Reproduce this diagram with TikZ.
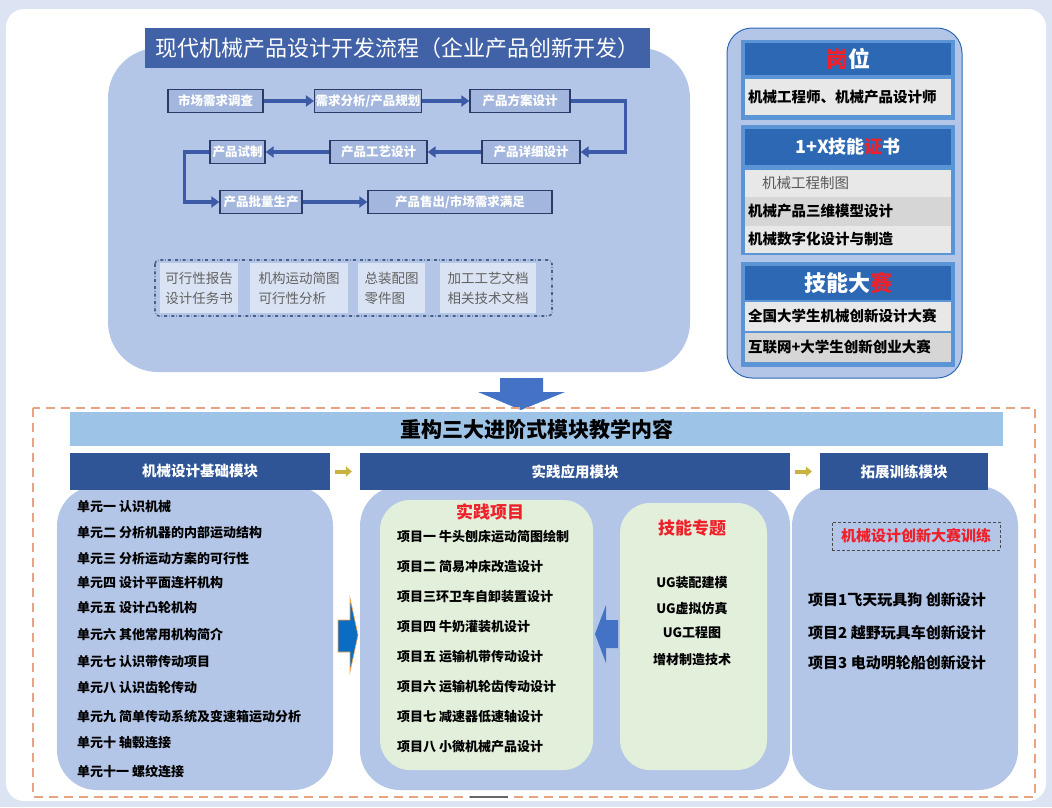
\documentclass[tikz,border=0pt]{standalone}
\usepackage{fontspec}
\setmainfont{Noto Sans CJK SC}
\usepackage{tikz}
\usetikzlibrary{
	positioning,
	arrows.meta
}

\definecolor{outerbg}{HTML}{DCE3F2}
\definecolor{panel}{HTML}{B4C6E7}
\definecolor{titlebar}{HTML}{4262A8}
\definecolor{flowfill}{HTML}{A3B6DD}
\definecolor{flowedge}{HTML}{2B3A67}
\definecolor{flowline}{HTML}{3C5AA5}
\definecolor{docfill}{HTML}{DAE3F3}
\definecolor{docdash}{HTML}{4A5F8C}
\definecolor{headblue}{HTML}{2D68B5}
\definecolor{frameblue}{HTML}{5B95D6}
\definecolor{rowgray}{HTML}{E8E8E8}
\definecolor{rowdark}{HTML}{D6D6D6}
\definecolor{hot}{HTML}{F0202A}
\definecolor{bigarrow}{HTML}{4472C4}
\definecolor{dashorange}{HTML}{E9A383}
\definecolor{band}{HTML}{9DC3E6}
\definecolor{modbar}{HTML}{2F5597}
\definecolor{arrowgold}{HTML}{C9B23E}
\definecolor{greenbox}{HTML}{E2EFDA}
\definecolor{pushblue}{HTML}{0A6CC2}

\tikzset{
	flow/.style={draw=flowedge, line width=1.3pt, fill=flowfill, text=white,
		font=\fontsize{12.5}{12.5}\selectfont\bfseries, minimum height=23pt, inner sep=1pt},
	flowarrow/.style={draw=flowline, line width=3.2pt, -{Triangle[length=8pt,width=11pt]}},
	doc/.style={fill=docfill, text=black!62, font=\fontsize{13.5}{20}\selectfont,
		align=left, minimum height=50pt, inner sep=2pt},
	sidehead/.style={fill=headblue, text=white, minimum width=206pt, inner sep=0pt,
		font=\fontsize{22}{22}\selectfont\bfseries},
	siderow/.style={fill=rowgray, text width=200pt, align=left, inner xsep=3pt, inner ysep=0pt,
		font=\fontsize{14.5}{14.5}\selectfont\bfseries},
	modhead/.style={fill=modbar, text=white, minimum height=37pt, inner sep=0pt,
		font=\fontsize{14.5}{14.5}\selectfont\bfseries},
	modarrow/.style={draw=arrowgold, line width=4pt, -{Triangle[length=6pt,width=10pt]}},
	unit/.style={anchor=west, inner sep=0pt, font=\fontsize{13}{13}\selectfont\bfseries},
	redhead/.style={text=hot, inner sep=0pt, font=\fontsize{17}{17}\selectfont\bfseries},
	skill/.style={inner sep=0pt, font=\fontsize{13}{13}\selectfont\bfseries},
	ext/.style={anchor=west, inner sep=0pt, font=\fontsize{15}{15}\selectfont\bfseries}
}

\begin{document}
\begin{tikzpicture}[x=1pt,y=-1pt]
	\useasboundingbox (0,0) rectangle (1052,807);
	\fill[outerbg] (0,0) rectangle (1052,807);
	\fill[white,rounded corners=18pt] (6,9) rectangle (1046,801);

	% development flow
	\fill[panel,rounded corners=50pt] (108,48) rectangle (690,372);
	\node[fill=titlebar,text=white,minimum width=505pt,minimum height=40pt,inner sep=0pt,
		font=\fontsize{22}{22}\selectfont] (title) at (397,48) {现代机械产品设计开发流程（企业产品创新开发）};

	\draw
		node[flow,minimum width=95pt]  (n1) at (215.5,101) {市场需求调查}
		node[flow,minimum width=100pt] (n2) at (368,101)   {需求分析/产品规划}
		node[flow,minimum width=100pt] (n3) at (520,101)   {产品方案设计}
		node[flow,minimum width=98pt]  (n4) at (531,152)   {产品详细设计}
		node[flow,minimum width=97pt]  (n5) at (378.5,152) {产品工艺设计}
		node[flow,minimum width=55pt]  (n6) at (237.5,152) {产品试制}
		node[flow,minimum width=82pt]  (n7) at (261,202)   {产品批量生产}
		node[flow,minimum width=184pt] (n8) at (460,202)   {产品售出/市场需求满足}

		(n1) edge[flowarrow] (n2)
		(n2) edge[flowarrow] (n3)
		(n4) edge[flowarrow] (n5)
		(n5) edge[flowarrow] (n6)
		(n7) edge[flowarrow] (n8)
	;
	\draw[flowarrow] (n3.east) -- ++(55,0) |- (n4.east);
	\draw[flowarrow] (n6.west) -- ++(-25,0) |- (n7.west);

	\draw[docdash,dash dot,line width=1.6pt,rounded corners=4pt] (155,260) rectangle (552,316);
	\draw
		node[doc,minimum width=78pt] (d1) at (199,288)   {可行性报告\\设计任务书}
		node[doc,minimum width=98pt] (d2) at (299,288)   {机构运动简图\\可行性分析}
		node[doc,minimum width=67pt] (d3) at (391.5,288) {总装配图\\零件图}
		node[doc,minimum width=96pt] (d4) at (488,288)   {加工工艺文档\\相关技术文档}
	;

	% jobs, certificates, contests
	\filldraw[fill=panel,draw=headblue,line width=1pt,rounded corners=25pt] (727,28) rectangle (962,378);
	\fill[frameblue] (741,40) rectangle (955,120);
	\fill[frameblue] (741,125) rectangle (955,255);
	\fill[frameblue] (741,262) rectangle (955,367);
	\draw
		node[sidehead,minimum height=32pt] (job) at (848,59) {\textcolor{hot}{岗}位}
		node[siderow,minimum height=36pt] (jobrow) at (848,97) {机械工程师、机械产品设计师}
		node[sidehead,minimum height=36pt,font=\fontsize{18}{18}\selectfont\bfseries] (cert) at (848,147) {1+X技能\textcolor{hot}{证}书}
		node[siderow,minimum height=27pt,font=\fontsize{14.5}{14.5}\selectfont,text=black!65] (c1) at (848,183) {\hspace*{14pt}机械工程制图}
		node[siderow,minimum height=29pt,fill=rowdark] (c2) at (848,211) {机械产品三维模型设计}
		node[siderow,minimum height=27pt] (c3) at (848,239) {机械数字化设计与制造}
		node[sidehead,minimum height=34pt] (race) at (848,283) {技能大\textcolor{hot}{赛}}
		node[siderow,minimum height=29pt] (r1) at (848,316) {全国大学生机械创新设计大赛}
		node[siderow,minimum height=29pt,fill=rowdark] (r2) at (848,347) {互联网+大学生创新创业大赛}
	;

	\fill[bigarrow] (500,378) -- (543,378) -- (543,392) -- (565,392) -- (521,410) -- (478,392) -- (500,392) -- cycle;

	% three modules
	\draw[dashorange,line width=2.2pt,dash pattern=on 9pt off 6pt] (33,408) rectangle (1035,797);
	\draw[black!60,line width=2pt] (470,797) -- (508,797);
	\node[fill=band,minimum width=933pt,minimum height=34pt,inner sep=0pt,
		font=\fontsize{21}{21}\selectfont\bfseries] (band) at (536.5,429) {重构三大进阶式模块教学内容};

	\fill[panel,rounded corners=40pt] (57,486) rectangle (333,790);
	\fill[panel,rounded corners=40pt] (360,486) rectangle (790,790);
	\fill[panel,rounded corners=40pt] (792,486) rectangle (1018,790);

	\draw
		node[modhead,minimum width=260pt] (m1) at (200,471.5) {机械设计基础模块}
		node[modhead,minimum width=430pt] (m2) at (575,471.5) {实践应用模块}
		node[modhead,minimum width=168pt] (m3) at (904,471.5) {拓展训练模块}
	;
	\draw[modarrow] ([xshift=5pt]m1.east) -- ([xshift=-8pt]m2.west);
	\draw[modarrow] ([xshift=5pt]m2.east) -- ([xshift=-8pt]m3.west);

	\draw
		node[unit] (u1)  at (77,507) {单元一 认识机械}
		node[unit] (u2)  at (77,533) {单元二 分析机器的内部运动结构}
		node[unit] (u3)  at (77,559) {单元三 分析运动方案的可行性}
		node[unit] (u4)  at (77,583) {单元四 设计平面连杆机构}
		node[unit] (u5)  at (77,608) {单元五 设计凸轮机构}
		node[unit] (u6)  at (77,634) {单元六 其他常用机构简介}
		node[unit] (u7)  at (77,662) {单元七 认识带传动项目}
		node[unit] (u8)  at (77,688) {单元八 认识齿轮传动}
		node[unit] (u9)  at (77,717) {单元九 简单传动系统及变速箱运动分析}
		node[unit] (u10) at (77,743) {单元十 轴毂连接}
		node[unit] (u11) at (77,772) {单元十一 螺纹连接}
	;
	\filldraw[fill=pushblue,draw=orange!70,line width=0.6pt]
		(338,620) -- (350,620) -- (350,598) -- (358,635) -- (350,672) -- (350,652) -- (338,652) -- cycle;

	\fill[greenbox,rounded corners=30pt] (380,500) rectangle (593,770);
	\fill[greenbox,rounded corners=30pt] (620,503) rectangle (767,770);
	\draw
		node[redhead] (practice) at (490,512) {实践项目}
		node[unit] (p1) at (397,537) {项目一 牛头刨床运动简图绘制}
		node[unit] (p2) at (397,567) {项目二 简易冲床改造设计}
		node[unit] (p3) at (397,597) {项目三环卫车自卸装置设计}
		node[unit] (p4) at (397,627) {项目四 牛奶灌装机设计}
		node[unit] (p5) at (397,657) {项目五 运输机带传动设计}
		node[unit] (p6) at (397,687) {项目六 运输机轮齿传动设计}
		node[unit] (p7) at (397,717) {项目七 减速器低速轴设计}
		node[unit] (p8) at (397,747) {项目八 小微机械产品设计}

		node[redhead] (topic) at (692,528) {技能专题}
		node[skill] (k1) at (692,583) {UG装配建模}
		node[skill] (k2) at (692,608) {UG虚拟仿真}
		node[skill] (k3) at (692,633) {UG工程图}
		node[skill] (k4) at (692,660) {增材制造技术}
	;
	\fill[bigarrow] (618,620) -- (606,620) -- (606,605) -- (595,634) -- (606,663) -- (606,648) -- (618,648) -- cycle;

	\draw
		node[draw=black!70,densely dashed,line width=1pt,minimum width=168pt,minimum height=28pt,
			text=hot,font=\fontsize{15}{15}\selectfont\bfseries] (contest) at (916,536) {机械设计创新大赛训练}
		node[ext] (e1) at (808,600) {项目1飞天玩具狗 创新设计}
		node[ext] (e2) at (808,633) {项目2 越野玩具车创新设计}
		node[ext] (e3) at (808,663) {项目3 电动明轮船创新设计}
	;
\end{tikzpicture}
\end{document}
